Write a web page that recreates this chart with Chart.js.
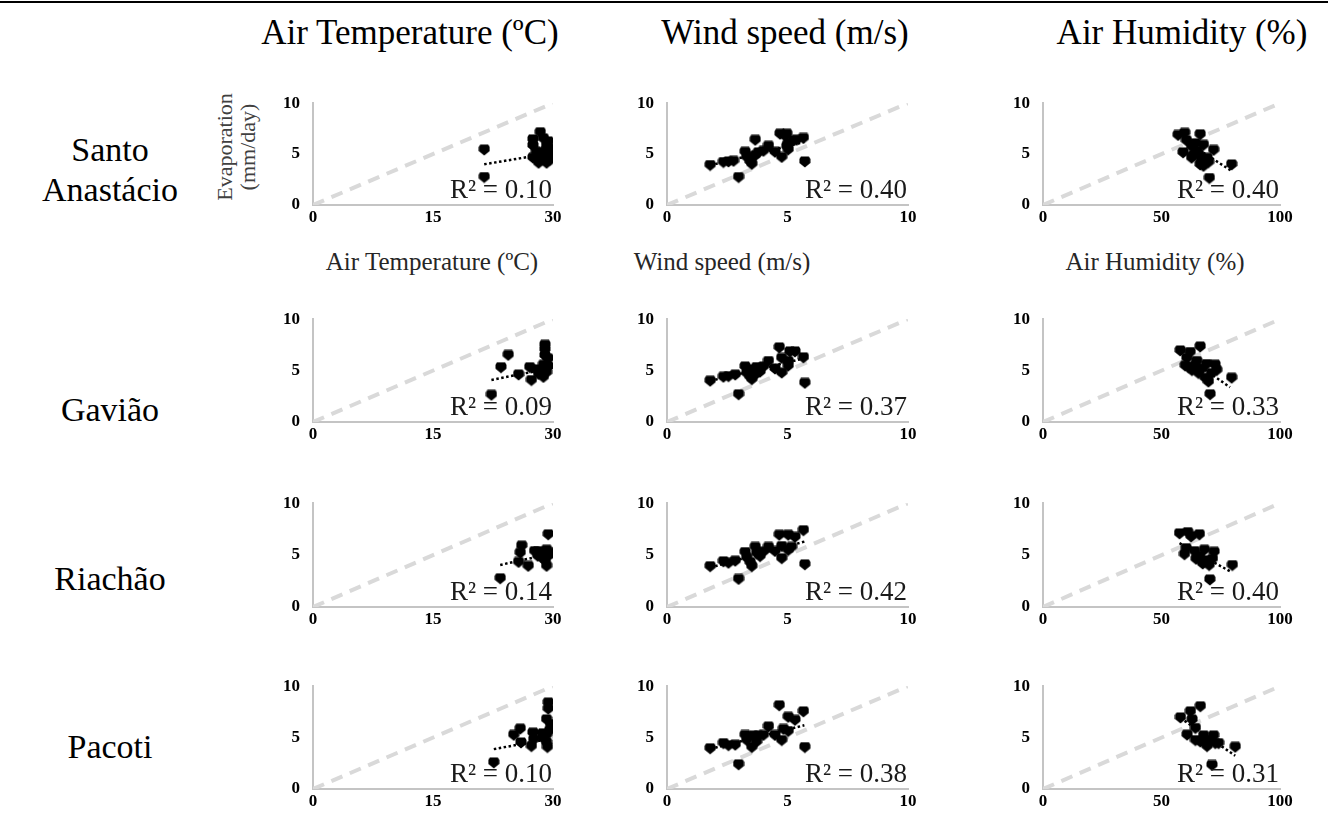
<!DOCTYPE html>
<html>
<head>
<meta charset="utf-8">
<script src="https://cdn.jsdelivr.net/npm/chart.js@4.4.0/dist/chart.umd.min.js"></script>
<style>
  body { margin: 0; background: #fff; width: 1328px; height: 818px; position: relative; overflow: hidden; font-family: "Liberation Serif", serif; }
  .t { position: absolute; white-space: nowrap; transform: translate(-50%, -50%); color: #000; text-align: center; }
  canvas { position: absolute; }
  .rule { position: absolute; left: 0; width: 1328px; height: 2px; background: #000; }
</style>
</head>
<body>
<div class="rule" style="top:1px"></div>
<script>
// labels
const variables = ['Air Temperature (ºC)', 'Wind speed (m/s)', 'Air Humidity (%)'];
const stations = ['Santo<br>Anastácio', 'Gavião', 'Riachão', 'Pacoti'];
const yTitle = 'Evaporation<br>(mm/day)';

// axis ranges per column
const xMaxes = [30, 10, 100];
const yMax = 10;

// Santo Anastácio
const saTempX = [21.4, 21.4, 27.5, 28.4, 28.8, 29.2, 29.6, 29.8, 27.9, 27.5, 28.2, 29.2, 28.8, 29.6, 28.4, 29.0, 27.5, 29.4];
const saTempE = [5.4, 2.7, 6.4, 7.1, 6.5, 5.8, 5.5, 4.9, 5.2, 4.6, 4.1, 4.1, 4.6, 4.4, 4.7, 5.2, 5.8, 6.2];
const saWindX = [1.79, 2.34, 2.55, 2.76, 2.97, 3.24, 3.31, 3.45, 3.52, 3.66, 3.66, 3.79, 4.0, 4.21, 4.48, 4.76, 4.69, 4.97, 5.03, 5.03, 5.24, 5.38, 5.66, 5.72, 4.9, 4.97];
const saWindE = [3.88, 4.17, 4.23, 4.29, 2.69, 5.18, 4.67, 4.23, 3.99, 4.82, 6.36, 5.12, 5.27, 5.77, 5.18, 4.67, 6.95, 6.95, 6.0, 5.41, 6.3, 6.36, 6.54, 4.23, 6.75, 5.71];
const saHumX = [57.0, 59.8, 60.5, 66.3, 59.1, 62.7, 67.7, 72.0, 62.7, 65.6, 67.0, 69.2, 66.3, 67.7, 69.9, 64.9, 64.2, 79.6, 70.2, 63.4];
const saHumE = [6.83, 7.04, 6.3, 6.9, 5.12, 5.71, 5.86, 5.36, 4.59, 4.97, 4.38, 4.59, 3.93, 3.79, 4.17, 5.27, 6.0, 3.93, 2.6, 4.82];

// Gavião
const gaTempX = [22.3, 24.4, 23.5, 25.7, 27.3, 27.1, 27.9, 28.2, 28.8, 29.0, 29.0, 29.0, 29.4, 28.8, 29.2, 29.0, 28.5, 29.4];
const gaTempE = [2.6, 6.48, 5.28, 4.57, 4.03, 5.28, 5.07, 4.63, 5.52, 7.46, 7.01, 6.42, 6.12, 4.33, 4.78, 5.22, 4.93, 5.37];
const gaWindX = [1.79, 2.34, 2.55, 2.83, 2.97, 3.24, 3.31, 3.45, 3.59, 3.72, 3.86, 4.0, 4.21, 4.48, 4.66, 4.76, 4.76, 5.03, 5.03, 5.1, 5.31, 5.66, 5.72, 3.52, 3.66];
const gaWindE = [3.97, 4.35, 4.41, 4.56, 2.65, 5.35, 4.71, 4.35, 5.06, 5.29, 4.85, 5.35, 5.88, 5.15, 7.21, 6.18, 4.76, 5.88, 5.44, 6.82, 6.82, 6.24, 3.76, 4.12, 4.56];
const gaHumX = [57.9, 62.1, 66.3, 60.7, 60.0, 64.9, 69.1, 72.6, 62.8, 65.6, 68.4, 69.8, 71.2, 67.0, 79.6, 70.5, 64.2, 73.3, 61.4];
const gaHumE = [6.91, 6.76, 7.29, 6.18, 5.44, 5.88, 5.59, 5.53, 5.0, 4.71, 4.26, 3.88, 4.71, 5.15, 4.26, 2.65, 5.44, 5.0, 5.29];

// Riachão
const riTempX = [23.4, 25.7, 26.1, 25.9, 26.9, 27.7, 28.1, 28.8, 29.4, 29.2, 29.8, 28.6, 29.0, 29.2, 28.1, 29.4];
const riTempE = [2.72, 4.29, 5.86, 5.18, 3.91, 5.33, 4.88, 5.18, 6.95, 5.47, 5.18, 4.73, 4.44, 3.91, 5.33, 4.88];
const riWindX = [1.79, 2.34, 2.55, 2.83, 2.97, 3.24, 3.31, 3.45, 3.52, 3.66, 3.72, 3.86, 4.0, 4.21, 4.48, 4.66, 4.76, 4.76, 5.03, 5.03, 5.31, 5.66, 5.72, 5.17];
const riWindE = [3.88, 4.35, 4.21, 4.41, 2.65, 5.24, 4.71, 4.26, 3.88, 5.74, 5.15, 4.85, 5.29, 5.74, 5.35, 6.91, 5.82, 4.65, 6.91, 5.44, 6.71, 7.35, 4.06, 5.74];
const riHumX = [57.6, 61.1, 62.5, 66.0, 60.4, 59.7, 63.9, 66.0, 68.1, 72.2, 68.8, 70.1, 71.5, 67.4, 79.9, 70.4, 64.6, 66.7];
const riHumE = [7.04, 7.16, 6.75, 6.95, 5.62, 5.03, 5.33, 4.88, 5.47, 5.27, 4.44, 3.99, 4.59, 4.14, 3.99, 2.6, 4.59, 4.44];

// Pacoti
const paTempX = [22.6, 25.1, 25.9, 26.0, 27.3, 27.5, 27.6, 28.75, 29.4, 29.4, 29.2, 29.7, 29.2, 29.2, 29.3, 28.75, 29.6];
const paTempE = [2.54, 5.22, 5.82, 4.48, 4.12, 5.43, 4.78, 5.37, 8.36, 7.76, 6.72, 6.27, 5.22, 4.48, 4.03, 4.93, 5.67];
const paWindX = [1.79, 2.34, 2.55, 2.83, 2.97, 3.24, 3.31, 3.52, 3.59, 3.72, 4.0, 4.21, 4.48, 4.66, 4.76, 4.83, 5.03, 5.03, 5.31, 5.66, 5.72, 3.79];
const paWindE = [3.91, 4.41, 4.21, 4.26, 2.35, 5.21, 4.71, 4.03, 5.15, 4.56, 5.21, 6.03, 5.21, 8.09, 4.71, 5.79, 6.97, 5.59, 6.68, 7.5, 4.03, 5.15];
const paHumX = [58.0, 62.2, 66.4, 62.9, 60.8, 64.3, 64.3, 67.8, 69.2, 72.0, 72.7, 69.9, 81.1, 71.3, 66.4, 74.1];
const paHumE = [6.91, 7.5, 8.0, 6.71, 5.24, 5.88, 4.71, 5.15, 4.12, 5.15, 4.41, 4.71, 4.06, 2.29, 4.56, 4.41];

// trendline ends [x1, y1, x2, y2]
const trends = [
  [21.4, 4.0, 29.8, 5.1], [1.8, 3.9, 5.7, 6.2], [57, 6.75, 79.6, 3.34],
  [22.3, 4.09, 30, 5.28], [1.8, 4.0, 5.7, 6.2], [57.9, 6.76, 78.9, 3.38],
  [23.4, 4.05, 30, 5.18], [1.8, 3.8, 5.7, 6.3], [57.6, 6.15, 79.2, 3.4],
  [22.6, 3.88, 30, 4.93], [1.8, 3.9, 5.7, 6.2], [58, 6.9, 81.1, 3.24]
];
const r2 = ['0.10', '0.40', '0.40', '0.09', '0.37', '0.33', '0.14', '0.42', '0.40', '0.10', '0.38', '0.31'];

const panelX = [saTempX, saWindX, saHumX, gaTempX, gaWindX, gaHumX, riTempX, riWindX, riHumX, paTempX, paWindX, paHumX];
const panelE = [saTempE, saWindE, saHumE, gaTempE, gaWindE, gaHumE, riTempE, riWindE, riHumE, paTempE, paWindE, paHumE];

// layout of the grid (plot area edges in px)
const colLeft = [313, 667, 1043], colRight = [553, 908, 1280];
const rowTop = [94, 310, 494, 677], rowBottom = [205, 422, 607, 789];
const AXIS_W = 50, AXIS_H = 30, PAD_T = 14, PAD_R = 26;
const SERIF = '"Liberation Serif", "Times New Roman", serif';

function addText(html, x, y, css) {
  const d = document.createElement('div');
  d.className = 't';
  d.innerHTML = html;
  d.style.left = x + 'px';
  d.style.top = y + 'px';
  Object.assign(d.style, css || {});
  document.body.appendChild(d);
  return d;
}

// headers and row names
[410, 785, 1182].forEach((cx, i) => addText(variables[i], cx, 33, { fontSize: '35px' }));
[170, 410, 579, 747].forEach((cy, i) => addText(stations[i], 110, cy, { fontSize: '34px', lineHeight: '40px' }));
// axis titles of the first row
[432, 722, 1155].forEach((cx, i) => addText(variables[i], cx, 262, { fontSize: '25px', color: '#262626' }));
const yt = addText(yTitle, 236, 147, { fontSize: '22px', lineHeight: '23px', color: '#404040' });
yt.style.transform = 'translate(-50%, -50%) rotate(-90deg)';

// marker shape
const marker = document.createElement('canvas');
marker.width = 12; marker.height = 12;
(() => {
  const c = marker.getContext('2d');
  c.fillStyle = '#000';
  c.beginPath();
  c.moveTo(2, 0.5); c.lineTo(10, 0.5); c.lineTo(11.5, 3); c.lineTo(11.5, 7);
  c.lineTo(6, 11.5); c.lineTo(0.5, 7); c.lineTo(0.5, 3);
  c.closePath(); c.fill();
})();

const r2Label = {
  id: 'r2',
  afterDatasetsDraw(chart, args, opts) {
    const { ctx, chartArea } = chart;
    ctx.save();
    ctx.font = '27px ' + SERIF;
    ctx.fillStyle = '#1a1a1a';
    ctx.textAlign = 'right';
    ctx.textBaseline = 'alphabetic';
    ctx.fillText('R² = ' + opts.text, chartArea.right - 1, chartArea.bottom - 7);
    ctx.restore();
  }
};

const tickFont = { family: SERIF, size: 17, weight: 'bold' };

for (let r = 0; r < 4; r++) {
  for (let c = 0; c < 3; c++) {
    const k = r * 3 + c;
    const xMax = xMaxes[c];
    const cv = document.createElement('canvas');
    const w = colRight[c] - colLeft[c] + AXIS_W + PAD_R;
    const h = rowBottom[r] - rowTop[r] + PAD_T + AXIS_H;
    cv.width = w; cv.height = h;
    cv.style.left = (colLeft[c] - AXIS_W) + 'px';
    cv.style.top = (rowTop[r] - PAD_T) + 'px';
    cv.style.width = w + 'px'; cv.style.height = h + 'px';
    document.body.appendChild(cv);

    const pts = panelX[k].map((x, i) => ({ x: x, y: panelE[k][i] }));
    const t = trends[k];

    new Chart(cv, {
      type: 'scatter',
      data: {
        datasets: [
          {
            data: [{ x: 0, y: 0 }, { x: xMax, y: yMax }],
            showLine: true, pointRadius: 0,
            borderColor: '#d9d9d9', borderWidth: 4, borderDash: [12, 8],
            order: 3
          },
          {
            data: pts,
            pointStyle: marker, pointRadius: 6,
            backgroundColor: '#000', borderColor: '#000',
            order: 2
          },
          {
            data: [{ x: t[0], y: t[1] }, { x: t[2], y: t[3] }],
            showLine: true, pointRadius: 0,
            borderColor: '#000', borderWidth: 2.5, borderDash: [2.5, 2.5],
            order: 1
          }
        ]
      },
      options: {
        responsive: false,
        animation: false,
        events: [],
        layout: { padding: { top: PAD_T, right: PAD_R, left: 0, bottom: 0 } },
        plugins: { legend: { display: false }, tooltip: { enabled: false }, r2: { text: r2[k] } },
        scales: {
          x: {
            type: 'linear', min: 0, max: xMax,
            afterFit: s => { s.height = AXIS_H; },
            ticks: { stepSize: xMax / 2, color: '#000', font: tickFont, padding: 2, maxRotation: 0 },
            grid: { display: false, drawTicks: false },
            border: { display: true, color: '#c4c4c4', width: 2 }
          },
          y: {
            min: 0, max: yMax,
            afterFit: s => { s.width = AXIS_W; },
            ticks: { stepSize: 5, color: '#000', font: tickFont, padding: 13 },
            grid: { display: false, drawTicks: false },
            border: { display: true, color: '#c4c4c4', width: 2 }
          }
        }
      },
      plugins: [r2Label]
    });
  }
}
</script>
</body>
</html>
